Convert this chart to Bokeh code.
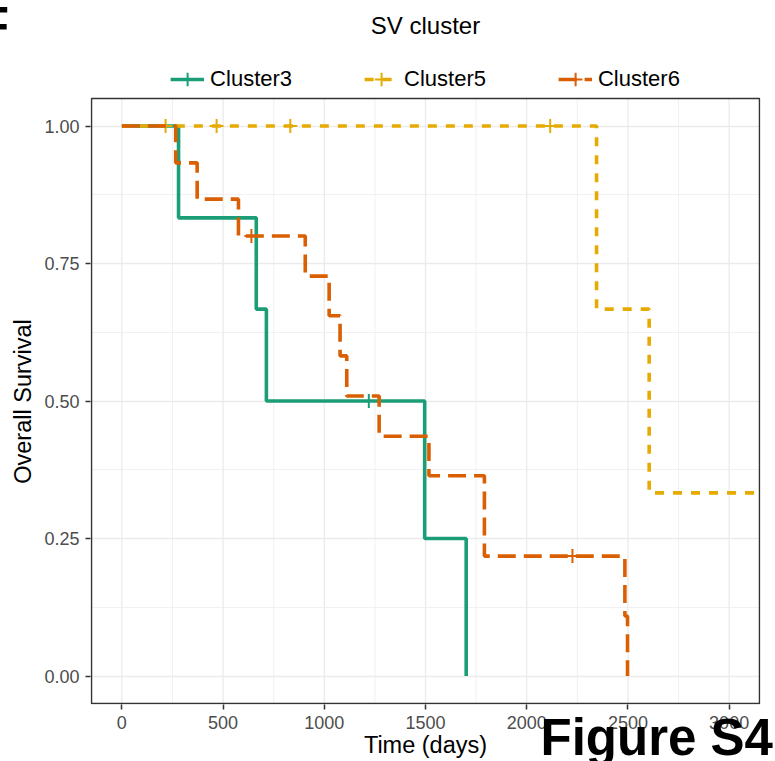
from bokeh.plotting import figure
from bokeh.models import (Range1d, Legend, LegendItem, Title, Label,
                          FixedTicker, NumeralTickFormatter)
from bokeh.embed import file_html
from bokeh.resources import INLINE

# ---------------- data ----------------
cluster3_time = [0, 280, 664, 714, 1496, 1701]
cluster3_surv = [1.0, 0.833, 0.667, 0.5, 0.25, 0.0]
cluster3_cens_time = [1220]
cluster3_cens_surv = [0.5]

cluster5_time = [0, 2345, 2605, 3300]
cluster5_surv = [1.0, 0.667, 0.333, 0.333]
cluster5_cens_time = [216, 468, 832, 2116]
cluster5_cens_surv = [1.0, 1.0, 1.0, 1.0]

cluster6_time = [0, 266, 372, 576, 906, 1024, 1078, 1111, 1271, 1517, 1791, 2485, 2498]
cluster6_surv = [1.0, 0.933, 0.867, 0.8, 0.727, 0.655, 0.582, 0.509, 0.436, 0.364, 0.218, 0.109, 0.0]
cluster6_cens_time = [640, 2226]
cluster6_cens_surv = [0.8, 0.218]

labels = ["Cluster3", "Cluster5", "Cluster6"]
x_ticks = [0, 500, 1000, 1500, 2000, 2500, 3000]
x_minor = [250, 750, 1250, 1750, 2250, 2750]
y_ticks = [0.0, 0.25, 0.5, 0.75, 1.0]
y_minor = [0.125, 0.375, 0.625, 0.875]

# ---------------- styling / geometry ----------------
COLORS = ["#1B9E77", "#E6AB02", "#D95F02"]
DASHES = ["solid", "9 9", "18 8"]
FONT = "Liberation Sans"
GRID = "#EBEBEB"

W, H = 775, 761
PANEL_X = (-150, 3150)          # visible panel limits (data)
PANEL_Y = (-0.05, 1.05)
P_LEFT, P_RIGHT, P_TOP, P_BOTTOM = 91, 759, 98, 703   # panel in pixels
XPX = (PANEL_X[1] - PANEL_X[0]) / (P_RIGHT - P_LEFT)  # data per px
YPX = (PANEL_Y[1] - PANEL_Y[0]) / (P_BOTTOM - P_TOP)
# the frame is 1px wider than the panel on the sides/bottom and reaches the
# canvas top, so that legend and title can be drawn inside it
XR = (PANEL_X[0] - XPX, PANEL_X[1] + XPX)
YR = (PANEL_Y[0] - YPX, PANEL_Y[1] + P_TOP * YPX)

p = figure(width=W, height=H, output_backend="svg", toolbar_location=None,
           x_range=Range1d(*XR), y_range=Range1d(*YR),
           min_border_left=P_LEFT - 1, min_border_right=W - P_RIGHT - 1,
           min_border_top=0, min_border_bottom=H - P_BOTTOM - 1)
p.background_fill_color = "white"
p.border_fill_color = "white"
p.outline_line_color = None

# grid: vertical lines drawn only inside the panel
p.xgrid.grid_line_color = None
p.xgrid.minor_grid_line_color = None
p.segment(x0=x_ticks, x1=x_ticks, y0=[PANEL_Y[0]] * len(x_ticks),
          y1=[PANEL_Y[1]] * len(x_ticks), line_color=GRID, line_width=1.3)
p.segment(x0=x_minor, x1=x_minor, y0=[PANEL_Y[0]] * len(x_minor),
          y1=[PANEL_Y[1]] * len(x_minor), line_color=GRID, line_width=0.7)
p.ygrid.grid_line_color = GRID
p.ygrid.grid_line_width = 1.3
p.ygrid.minor_grid_line_color = GRID
p.ygrid.minor_grid_line_width = 0.7

series = [
    (cluster3_time, cluster3_surv, cluster3_cens_time, cluster3_cens_surv),
    (cluster5_time, cluster5_surv, cluster5_cens_time, cluster5_cens_surv),
    (cluster6_time, cluster6_surv, cluster6_cens_time, cluster6_cens_surv),
]

items = []
for (t, s, ct, cs), lab, col, dash in zip(series, labels, COLORS, DASHES):
    r = p.step(t, s, mode="after", line_color=col, line_width=3.6,
               line_dash=dash)
    c = p.scatter(ct, cs, marker="cross", size=14, line_color=col,
                  line_width=2)
    items.append(LegendItem(label=lab, renderers=[r, c]))

# panel border
p.quad(left=[PANEL_X[0]], right=[PANEL_X[1]], bottom=[PANEL_Y[0]],
       top=[PANEL_Y[1]], fill_color=None, line_color="#333333",
       line_width=1.5)

legend = Legend(items=items, orientation="horizontal", location="top_center",
                border_line_color=None, background_fill_alpha=0,
                padding=0, margin=62, spacing=72, glyph_width=34,
                glyph_height=34, label_standoff=6,
                label_text_font_size="22px", label_text_font=FONT,
                label_text_color="black")
p.add_layout(legend)

p.add_layout(Label(x=(PANEL_X[0] + PANEL_X[1]) / 2,
                   y=PANEL_Y[1] + (P_TOP - 25) * YPX,
                   text="SV cluster", text_align="center",
                   text_baseline="middle", text_font=FONT,
                   text_font_size="24px", text_color="black"))

# axes
p.xaxis.ticker = FixedTicker(ticks=x_ticks, minor_ticks=x_minor)
p.yaxis.ticker = FixedTicker(ticks=y_ticks, minor_ticks=y_minor)
p.yaxis.formatter = NumeralTickFormatter(format="0.00")
p.yaxis.bounds = PANEL_Y
for ax in (p.xaxis, p.yaxis):
    ax.axis_line_color = None
    ax.major_tick_out = 5
    ax.major_tick_in = 0
    ax.minor_tick_out = 0
    ax.minor_tick_in = 0
    ax.major_tick_line_color = "#333333"
    ax.major_tick_line_width = 1.5
    ax.major_label_text_color = "#4D4D4D"
    ax.major_label_text_font_size = "18px"
    ax.major_label_text_font = FONT
    ax.major_label_standoff = 6
    ax.axis_label_text_font_size = "23.5px"
    ax.axis_label_text_font = FONT
    ax.axis_label_text_font_style = "normal"
    ax.axis_label_text_color = "black"
p.xaxis.axis_label = "Time (days)"
# the frame reaches the canvas top, so the label is padded at its far end
# (non-breaking spaces) to centre the visible words on the panel
p.yaxis.axis_label = "Overall Survival" + "\u00a0" * 15
p.xaxis.axis_label_standoff = 0
p.yaxis.axis_label_standoff = 5

# figure tag and cropped panel letter: zero-height texts below the x axis,
# pulled into place with negative standoffs
p.add_layout(Title(text="Figure S4", align="left", offset=540 - (P_LEFT - 1),
                   vertical_align="top", standoff=-103, text_font=FONT,
                   text_font_size="51px", text_font_style="bold",
                   text_color="black"), "below")
p.add_layout(Title(text="F", align="left", offset=-22 - (P_LEFT - 1),
                   vertical_align="top", standoff=-1528, text_font=FONT,
                   text_font_size="50px", text_font_style="bold",
                   text_color="black"), "below")

open("out.html", "w").write(file_html(p, INLINE))
